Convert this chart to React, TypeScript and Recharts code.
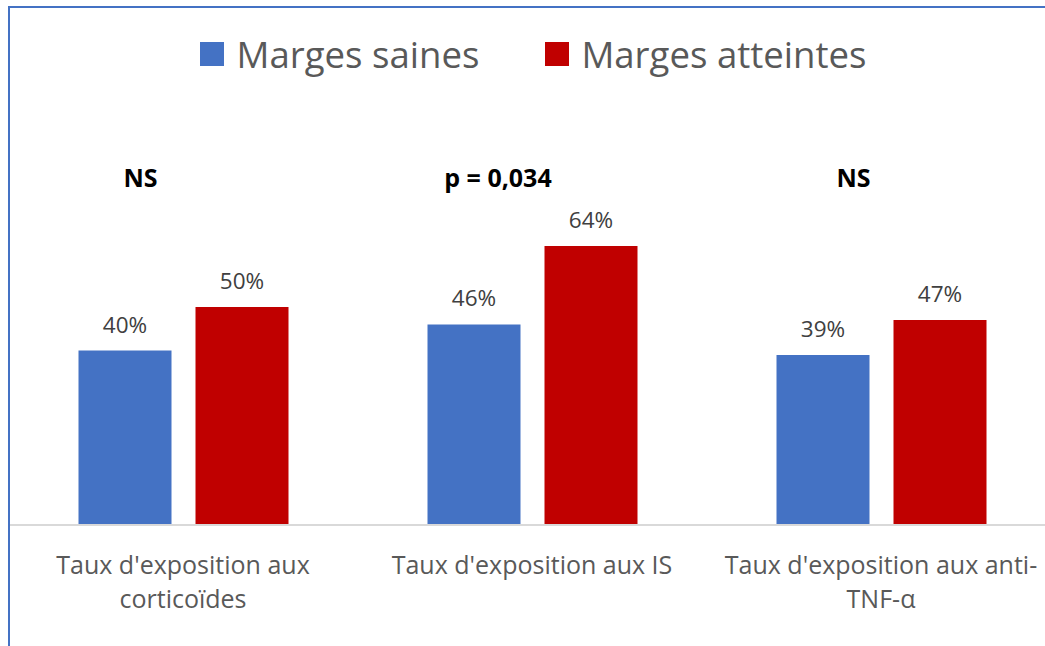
import React from "react";
import { BarChart, Bar, XAxis, YAxis, Legend, LabelList } from "recharts";

const categories = [
  "Taux d'exposition aux corticoïdes",
  "Taux d'exposition aux IS",
  "Taux d'exposition aux anti-TNF-α",
];
const tickLines = [
  ["Taux d'exposition aux", "corticoïdes"],
  ["Taux d'exposition aux IS"],
  ["Taux d'exposition aux anti-", "TNF-α"],
];
const margesSaines = [40, 46, 39];
const margesAtteintes = [50, 64, 47];
const significance = ["NS", "p = 0,034", "NS"];
const seriesNames = ["Marges saines", "Marges atteintes"];

// styling only: horizontal offset of significance text from blue bar centre
const sigOffsets = [15.5, 24, 30.5];

const BLUE = "#4472C4";
const RED = "#C00000";
const FONT = "'Open Sans', sans-serif";

const data = categories.map((c, i) => ({
  category: c,
  saines: margesSaines[i],
  atteintes: margesAtteintes[i],
  sig: significance[i],
}));

const renderTick = (props: any) => {
  const { x, y, payload } = props;
  const lines = tickLines[payload.index] || [payload.value];
  return (
    <text x={x} y={y + 49} textAnchor="middle" fill="#595959" fontSize={25} fontFamily={FONT}>
      {lines.map((l, i) => (
        <tspan key={i} x={x} dy={i === 0 ? 0 : 34}>
          {l}
        </tspan>
      ))}
    </text>
  );
};

const renderSig = (props: any) => {
  const { x, y, width, height, index, value } = props;
  const cx = x + width / 2 + sigOffsets[index];
  const base = y + height;
  return (
    <text
      x={cx}
      y={base - 338}
      textAnchor="middle"
      fill="#000000"
      fontSize={25}
      fontWeight={700}
      fontFamily={FONT}
    >
      {value}
    </text>
  );
};

const renderLegend = () => {
  const colors = [BLUE, RED];
  return (
    <div style={{ display: "flex", justifyContent: "center", alignItems: "center" }}>
      {seriesNames.map((n, i) => (
        <div
          key={n}
          style={{ display: "flex", alignItems: "center", marginRight: i === 0 ? 66 : 0 }}
        >
          <div style={{ width: 24, height: 24, background: colors[i], marginRight: 12 }} />
          <span
            style={{
              fontFamily: FONT,
              fontSize: 36.6,
              color: "#595959",
              lineHeight: 1,
              whiteSpace: "nowrap",
            }}
          >
            {n}
          </span>
        </div>
      ))}
    </div>
  );
};

export default function App() {
  return (
    <div
      style={{
        position: "fixed",
        left: 0,
        top: 0,
        width: 1045,
        height: 646,
        overflow: "hidden",
        background: "#ffffff",
      }}
    >
      <div style={{ position: "absolute", left: 0, top: 0 }}>
        <BarChart
          width={1100}
          height={646}
          data={data}
          margin={{ top: 89, right: 44.5, left: 8.5, bottom: 61 }}
          barSize={93}
          barGap={24}
        >
          <XAxis
            dataKey="category"
            height={60}
            tickSize={0}
            tickMargin={0}
            tickLine={false}
            axisLine={{ stroke: "#D9D9D9", strokeWidth: 2 }}
            tick={renderTick}
            interval={0}
          />
          <YAxis hide domain={[0, 100]} />
          <Legend
            verticalAlign="middle"
            layout="horizontal"
            content={renderLegend}
            wrapperStyle={{ top: 36, left: 0, width: 1067, height: 37 }}
          />
          <Bar dataKey="saines" name={seriesNames[0]} fill={BLUE} isAnimationActive={false}>
            <LabelList
              dataKey="saines"
              position="top"
              offset={18}
              formatter={(v: any) => `${v}%`}
              fill="#404040"
              fontSize={22.5}
              fontFamily={FONT}
            />
            <LabelList dataKey="sig" content={renderSig} />
          </Bar>
          <Bar dataKey="atteintes" name={seriesNames[1]} fill={RED} isAnimationActive={false}>
            <LabelList
              dataKey="atteintes"
              position="top"
              offset={18}
              formatter={(v: any) => `${v}%`}
              fill="#404040"
              fontSize={22.5}
              fontFamily={FONT}
            />
          </Bar>
        </BarChart>
      </div>
      <div
        style={{
          position: "absolute",
          left: 8,
          top: 6,
          right: 0,
          bottom: 0,
          borderTop: `2px solid ${BLUE}`,
          borderLeft: `2px solid ${BLUE}`,
          pointerEvents: "none",
        }}
      />
    </div>
  );
}
